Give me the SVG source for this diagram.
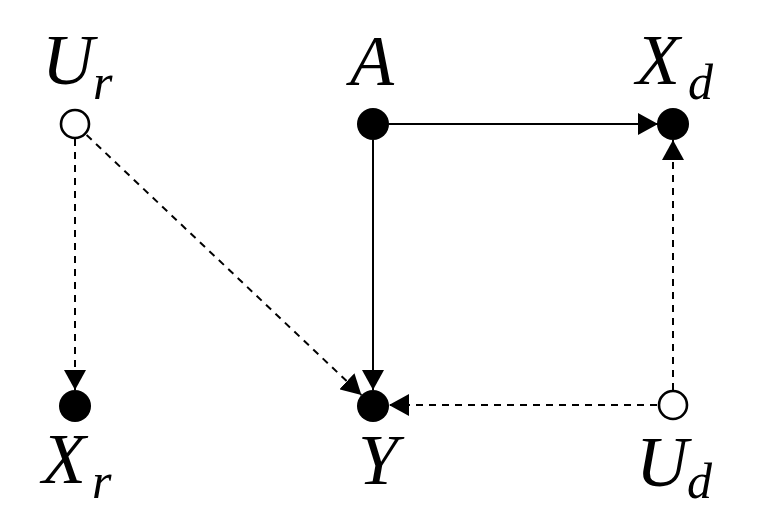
<svg xmlns="http://www.w3.org/2000/svg" width="775" height="522" viewBox="0 0 775 522">
<style>
.bg{fill:#ffffff}
.lbl{font-family:"Liberation Serif","Times New Roman",serif;font-style:italic;font-size:72px;fill:#000}
.sub{font-size:50px}
.obs{fill:#000;stroke:none}
.lat{fill:#fff;stroke:#000;stroke-width:2.6}
.edge{stroke:#000;stroke-width:2;fill:none}
.dash{stroke-dasharray:7 6}
</style>
<defs>
<marker id="arr" markerUnits="userSpaceOnUse" markerWidth="21" markerHeight="22" refX="20" refY="11" orient="auto" viewBox="0 0 21 22">
<path d="M0,0 L20,11 L0,22 Z" fill="#000"/>
</marker>
</defs>
<rect class="bg" x="0" y="0" width="775" height="522"/>
<g id="connectors">
<line class="edge dash" x1="75" y1="139" x2="75" y2="390" marker-end="url(#arr)"/>
<line class="edge dash" x1="86.6" y1="135" x2="361.4" y2="395" marker-end="url(#arr)"/>
<line class="edge" x1="389" y1="124" x2="658" y2="124" marker-end="url(#arr)"/>
<line class="edge" x1="373" y1="140" x2="373" y2="390" marker-end="url(#arr)"/>
<line class="edge dash" x1="657" y1="405" x2="389" y2="405" marker-end="url(#arr)"/>
<line class="edge dash" x1="673" y1="390" x2="673" y2="140" marker-end="url(#arr)"/>
</g>
<g id="node-Ur">
<circle class="lat" cx="75" cy="124" r="14"/>
<text class="lbl" x="42" y="84">U</text>
<text class="lbl sub" x="93" y="99">r</text>
</g>
<g id="node-A">
<circle class="obs" cx="373" cy="124" r="16"/>
<text class="lbl" x="350" y="85">A</text>
</g>
<g id="node-Xd">
<circle class="obs" cx="673" cy="124" r="16"/>
<text class="lbl" x="636" y="84">X</text>
<text class="lbl sub" x="688" y="99">d</text>
</g>
<g id="node-Xr">
<circle class="obs" cx="75" cy="406" r="16"/>
<text class="lbl" x="42" y="483">X</text>
<text class="lbl sub" x="92" y="498">r</text>
</g>
<g id="node-Y">
<circle class="obs" cx="373" cy="406" r="16"/>
<text class="lbl" x="358" y="484">Y</text>
</g>
<g id="node-Ud">
<circle class="lat" cx="673" cy="405" r="14"/>
<text class="lbl" x="636" y="486">U</text>
<text class="lbl sub" x="687" y="498">d</text>
</g>
</svg>
